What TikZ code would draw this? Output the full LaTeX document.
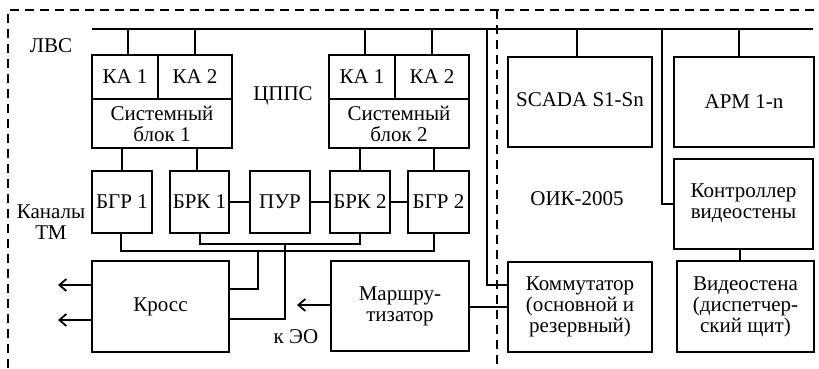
\documentclass[tikz,border=0pt]{standalone}
\usepackage{fontspec}
\setmainfont{Liberation Serif}
\usetikzlibrary{arrows.meta}
\begin{document}
\begin{tikzpicture}[x=1pt,y=-1pt,
  ln/.style={line width=2pt},
  box/.style={draw,line width=2pt,rectangle,inner sep=0pt,align=center,font=\fontsize{21}{21}\selectfont},
  lbl/.style={inner sep=0pt,align=center,font=\fontsize{21}{21}\selectfont},
  dsh/.style={line width=1.8pt,dash pattern=on 9pt off 6pt},
  arr/.style={line width=2pt,-{Straight Barb[length=7pt,width=12pt,line width=1.8pt]}}]
\useasboundingbox (0,0) rectangle (819,368);
% dashed frame
\draw[dsh] (8,368) -- (8,10) -- (819,10);
\draw[dsh] (497,10) -- (497,368);
% bus
\coordinate (busL) at (92,29);
\coordinate (busR) at (813,29);
\draw[ln] (busL) -- (busR);
% block 1
\node[box,minimum width=66pt,minimum height=44pt] (ka11) at (125,77) {КА 1};
\node[box,minimum width=74pt,minimum height=44pt] (ka12) at (195,77) {КА 2};
\node[box,minimum width=140pt,minimum height=49pt] (sys1) at (162,123.5) {Системный\\блок 1};
% block 2
\node[box,minimum width=66pt,minimum height=44pt] (ka21) at (362,77) {КА 1};
\node[box,minimum width=74pt,minimum height=44pt] (ka22) at (432,77) {КА 2};
\node[box,minimum width=140pt,minimum height=49pt] (sys2) at (399,123.5) {Системный\\блок 2};
% small boxes
\node[box,minimum width=60pt,minimum height=62pt] (bgr1) at (122,202) {БГР 1};
\node[box,minimum width=59pt,minimum height=62pt] (brk1) at (199.5,202) {БРК 1};
\node[box,minimum width=60pt,minimum height=62pt] (pur) at (280,202) {ПУР};
\node[box,minimum width=60pt,minimum height=62pt] (brk2) at (360,202) {БРК 2};
\node[box,minimum width=61pt,minimum height=62pt] (bgr2) at (438.5,202) {БГР 2};
% bottom boxes
\node[box,minimum width=137pt,minimum height=91pt] (kross) at (160.5,306.5) {Кросс};
\node[box,minimum width=138pt,minimum height=90pt] (marsh) at (400,306) {Маршру-\\тизатор};
\node[box,minimum width=144pt,minimum height=90pt] (kom) at (580,307) {Коммутатор\\(основной и\\резервный)};
% right boxes
\node[box,minimum width=144pt,minimum height=90pt] (scada) at (580,102) {\raisebox{5pt}{SCADA S1-Sn}};
\node[box,minimum width=140pt,minimum height=90pt] (arm) at (744,102) {АРМ 1-n};
\node[box,minimum width=139pt,minimum height=90pt] (ctrl) at (743.5,204) {\raisebox{3pt}{\begin{tabular}{@{}c@{}}Контроллер\\видеостены\end{tabular}}};
\node[box,minimum width=137pt,minimum height=91pt] (vid) at (745.5,306.5) {Видеостена\\(диспетчер-\\ский щит)};
% labels
\node[lbl] (lvs) at (51,46) {ЛВС};
\node[lbl] (cpps) at (283,96) {ЦППС};
\node[lbl] (kanaly) at (51,222) {Каналы\\ТМ};
\node[lbl] (keo) at (296,337) {к ЭО};
\node[lbl] (oik) at (577,199) {ОИК-2005};
% bus drops
\draw[ln] ([xshift=3pt]ka11.north) -- ([xshift=3pt]ka11.north |- busL);
\draw[ln] (ka12.north) -- (ka12.north |- busL);
\draw[ln] ([xshift=3pt]ka21.north) -- ([xshift=3pt]ka21.north |- busL);
\draw[ln] (ka22.north) -- (ka22.north |- busL);
\draw[ln] ([xshift=-3pt]scada.north) -- ([xshift=-3pt]scada.north |- busL);
\draw[ln] ([xshift=-5pt]arm.north) -- ([xshift=-5pt]arm.north |- busL);
\coordinate (t1) at (662,29);
\coordinate (t2) at (487,29);
\draw[ln] (t1) |- (ctrl.west);
\draw[ln] (t2) |- ([yshift=22pt]kom.west);
\draw[ln] (marsh.east |- kom.west) -- (kom.west);
\draw[ln] ([xshift=-3.5pt]ctrl.south) -- ([xshift=-3.5pt]ctrl.south |- vid.north);
% system block to small boxes
\draw[ln] (bgr1.north) -- (bgr1.north |- sys1.south);
\draw[ln] ([xshift=-2.5pt]brk1.north) -- ([xshift=-2.5pt]brk1.north |- sys1.south);
\draw[ln] (brk2.north) -- (brk2.north |- sys2.south);
\draw[ln] ([xshift=-4.5pt]bgr2.north) -- ([xshift=-4.5pt]bgr2.north |- sys2.south);
% horizontal links
\draw[ln] (brk1.east) -- (pur.west);
\draw[ln] (pur.east) -- (brk2.west);
\draw[ln] (brk2.east) -- (bgr2.west);
% lower buses
\draw[ln] ([xshift=-1pt]bgr1.south) -- ++(0,17) -| ([xshift=-4.5pt]bgr2.south);
\draw[ln] (brk1.south) -- ++(0,10) -| (brk2.south);
\coordinate (jA) at (258,250);
\coordinate (jB) at (285,243);
\draw[ln] (jA) |- ([yshift=17.5pt]kross.east);
\draw[ln] (jB) |- ([yshift=-12.5pt]kross.east);
% arrows
\draw[arr] ([yshift=21.5pt]kross.west) -- ++(-33,0);
\draw[arr] ([yshift=-13.5pt]kross.west) -- ++(-33,0);
\draw[arr] ([yshift=1pt]marsh.west) -- ++(-33,0);
\end{tikzpicture}
\end{document}
